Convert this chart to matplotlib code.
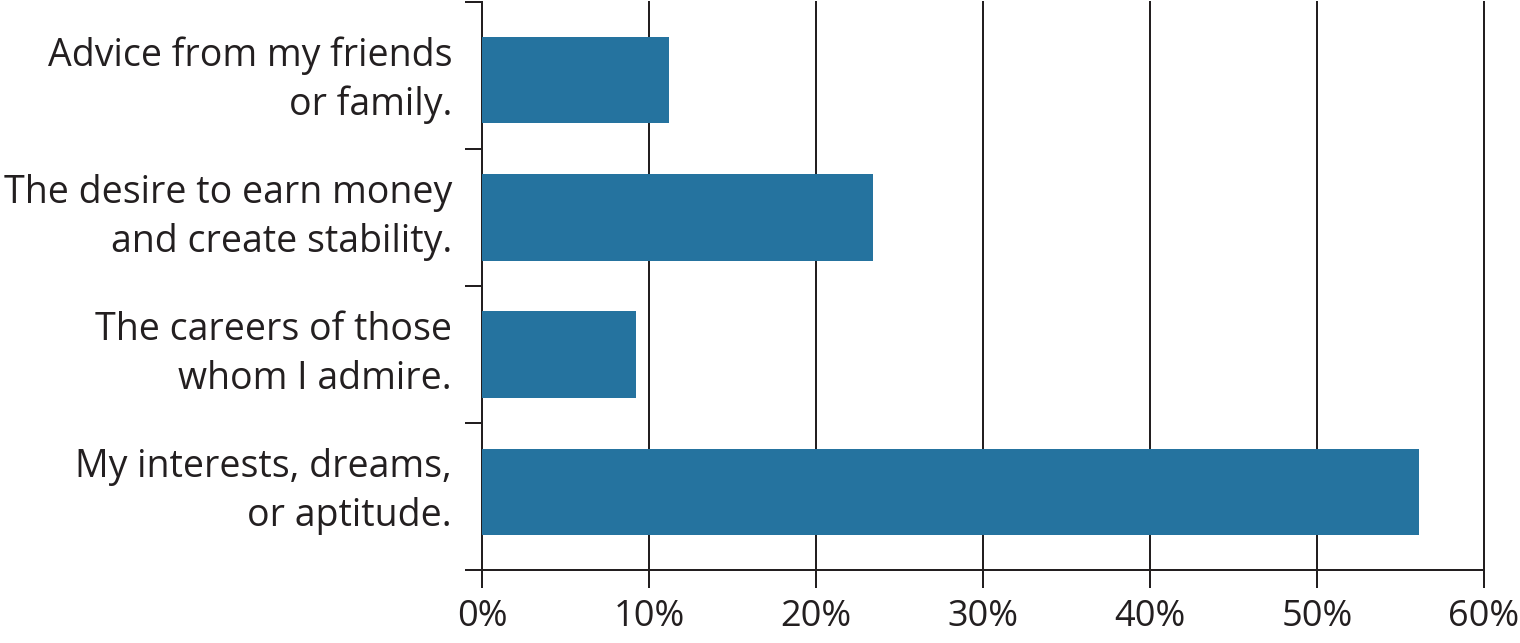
import matplotlib.pyplot as plt
import matplotlib.ticker as ticker
from matplotlib.transforms import ScaledTranslation

categories = ["My interests, dreams,\nor aptitude.",
              "The careers of those\nwhom I admire.",
              "The desire to earn money\nand create stability.",
              "Advice from my friends\nor family."]
values = [56.1, 9.2, 23.4, 11.2]
xticks = [0, 10, 20, 30, 40, 50, 60]

plt.rcParams['font.family'] = ['Open Sans', 'DejaVu Sans']
dark = '#231f20'

fig = plt.figure(figsize=(15.2, 6.43), dpi=100)
ax = fig.add_axes([482 / 1520, 73 / 643, 1002 / 1520, 568 / 643])

pos = list(range(len(categories)))
ax.barh(pos, values, height=0.63, color='#25739f', zorder=3)

ax.set_xlim(0, 60)
ax.set_ylim(-0.57, 3.57)

ax.set_xticks(xticks)
ax.set_xticklabels([f"{t}%" for t in xticks])
ax.set_yticks(pos)
ax.set_yticklabels(categories, ha='right', linespacing=1.37)
ax.yaxis.set_minor_locator(ticker.FixedLocator([-0.57, 0.5, 1.5, 2.5, 3.57]))

ax.tick_params(axis='y', which='major', length=0, pad=21.6, labelsize=27, colors=dark)
ax.tick_params(axis='y', which='minor', length=12.2, width=1.44, color=dark)
ax.tick_params(axis='x', length=13, width=1.44, pad=8, labelsize=26, colors=dark)

# nudge the category labels up a little
shift = ScaledTranslation(0, 10 / 100, fig.dpi_scale_trans)
for lab in ax.get_yticklabels():
    lab.set_transform(lab.get_transform() + shift)

for t in xticks[1:]:
    ax.axvline(t, color=dark, lw=1.44, zorder=2, clip_on=False)

for s in ['top', 'right']:
    ax.spines[s].set_visible(False)
for s in ['left', 'bottom']:
    ax.spines[s].set_color(dark)
    ax.spines[s].set_linewidth(1.44)

fig.savefig("out.png", dpi=100)
